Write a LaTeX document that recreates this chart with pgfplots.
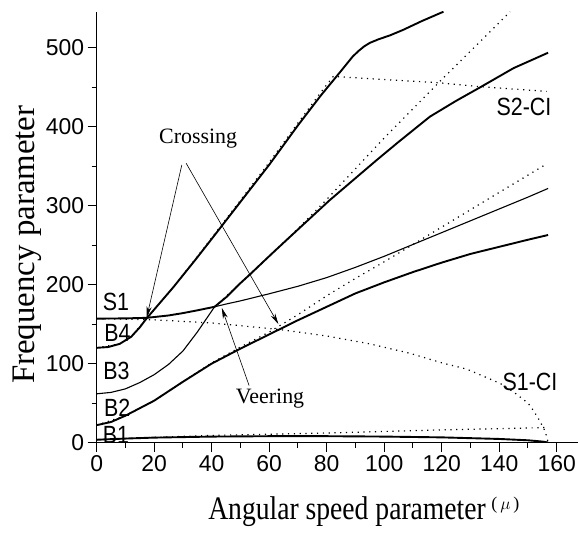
\documentclass[border=0pt]{standalone}
\usepackage{fontspec}
\setmainfont{Liberation Serif}
\newfontfamily\arial{Liberation Sans}
\usepackage{pgfplots}
\pgfplotsset{compat=1.18}
\usetikzlibrary{arrows.meta}
\newcommand\lab[1]{\scalebox{0.86}[1]{#1}}
\tikzset{
	thickc/.style={black, line width=1.9bp},
	thinc/.style={black, line width=1.1bp},
	dotc/.style={black, line width=1.2bp, dash pattern=on 1.2bp off 4.6bp},
	ann/.style={black, line width=0.6bp, -{Stealth[length=11bp,width=5bp]}},
	lab/.style={font=\arial\fontsize{25}{25}\selectfont, inner sep=0pt},
	txt/.style={font=\fontsize{22}{22}\selectfont, inner sep=0pt},
}
\begin{document}
\begin{tikzpicture}
\begin{axis}[
	scale only axis,
	width=481.3bp, height=430.8bp,
	xmin=0, xmax=167.4,
	ymin=0, ymax=546,
	axis lines*=left,
	axis line style={-, line width=1.2bp},
	xtick={0,20,...,160},
	ytick={0,100,...,500},
	minor x tick num=1,
	minor y tick num=1,
	tick align=outside,
	major tick length=9bp,
	minor tick length=5bp,
	tick style={black, line width=1bp},
	/pgf/number format/assume math mode=true,
	ticklabel style={font=\arial\fontsize{23}{23}\selectfont},
	xlabel={\scalebox{0.84}[1]{Angular speed parameter}\,\raisebox{10bp}{\fontsize{18}{18}\selectfont(\,$\mu$\,)}},
	xlabel style={font=\fontsize{33}{33}\selectfont, at={(axis description cs:0.555,-0.179)}, anchor=base},
	ylabel={Frequency parameter},
	ylabel style={font=\fontsize{33}{33}\selectfont, at={(axis description cs:-0.145,0.459)}, anchor=center},
]
% B1
\addplot [thickc] coordinates {
(0,3.5) (10,5) (20,6.2) (40,7.5) (60,8) (80,8) (100,7.5) (120,6.5) (140,4.5) (150,2.8) (155,1.2) (157,0)};
\addplot [dotc] coordinates {
(0,3.5) (20,6.5) (40,9) (60,10.5) (80,12) (100,14) (120,16) (140,17.5) (156.5,19)};
% B2
\addplot [thickc] coordinates {
(0,22) (5,26) (10,34) (20,53) (30,77) (40,100) (50,119) (60,137) (70,155) (80,172) (90,189) (100,203) (110,216) (120,228) (130,239) (140,248) (150,257) (157,263)};
\addplot [dotc] coordinates {
(0,22) (10,34) (20,53) (30,77) (40,101) (50,121) (60,140) (70,162) (80,186) (90,208) (100,229) (110,251) (120,273) (130,295) (140,317) (156,352)};
% B3 -> slow branch
\addplot [dotc] coordinates {
(41,172) (50,202) (60,236) (70,271) (80,308) (90,347) (100,386) (110,423) (120,460) (130,496) (143.8,546)};
\addplot [thinc] coordinates {
(0,61.7) (5,63.5) (10,68) (15,76) (20,86) (25,99) (30,116) (35,140) (41,172) (45,175.5) (50,179.5) (55,184) (60,188.5) (70,198) (80,209) (90,222) (100,236) (110,251) (120,266) (130,281) (140,296) (150,311) (157,322)};
% S1 -> steep branch
\addplot [thickc] coordinates {
(0,157) (10,157.3) (17.4,158) (25,161) (30,164) (35,167.5) (41,172) (45,184) (50,202) (53.3,213) (58.5,231) (62,243) (70,270) (81,307) (90,335) (97.4,358) (105,381) (115.9,413) (125,433) (133.3,450) (145,474.5) (157,494)};
\addplot [dotc] coordinates {
(0,157) (20,155.5) (40,151.5) (53,147) (64,143) (80,135) (95,125) (109,113) (120,101) (128.7,93) (140.3,75) (145,64) (150,50) (152,40) (154,28) (156,14) (157,0)};
% B4
\addplot [thickc] coordinates {
(0,120) (4,121) (8,125) (12,134) (15,146) (17.4,157.5) (22,177) (26.7,197) (30,212) (34.2,231) (40,258) (50,305) (60,352) (70,402) (78,440) (85,471) (89,489) (91,496) (93,502) (95,506.5) (98,511) (102,516) (106.6,523) (113,534) (120.6,546)};
\addplot [dotc] coordinates {
(0,120) (8,125) (12,134) (17.4,157.5) (26.7,197) (34.2,232) (50,307) (60,355) (70,405) (78,444) (82.3,464) (100,460) (118.8,456) (133.3,451) (156.5,445)};
% labels
\node [lab] at (axis cs:6.7,178) {\lab{S1}};
\node [lab] at (axis cs:7.2,138.4) {\lab{B4}};
\node [lab] at (axis cs:6.9,90.2) {\lab{B3}};
\node [lab] at (axis cs:7.1,44.6) {\lab{B2}};
\node [lab] at (axis cs:6.7,9.8) {\lab{B1}};
\node [lab] at (axis cs:148.6,425.5) {\lab{S2-CI}};
\node [lab] at (axis cs:150.7,77) {\lab{S1-CI}};
\node [txt] at (axis cs:35.3,384.8) {Crossing};
\node [txt] at (axis cs:60.3,55.4) {Veering};
\draw [ann] (axis cs:29.6,351.7) -- (axis cs:17.4,158.5);
\draw [ann] (axis cs:31.1,354) -- (axis cs:63.2,150);
\draw [ann] (axis cs:53,72.2) -- (axis cs:43.5,170.7);
\coordinate (o) at (axis cs:0,0);
\coordinate (tr) at (axis cs:167.4,546);
\end{axis}
\pgfresetboundingbox
\path ([xshift=-96.7bp,yshift=-92.3bp]o) rectangle ([yshift=11.7bp]tr);
\end{tikzpicture}
\end{document}
